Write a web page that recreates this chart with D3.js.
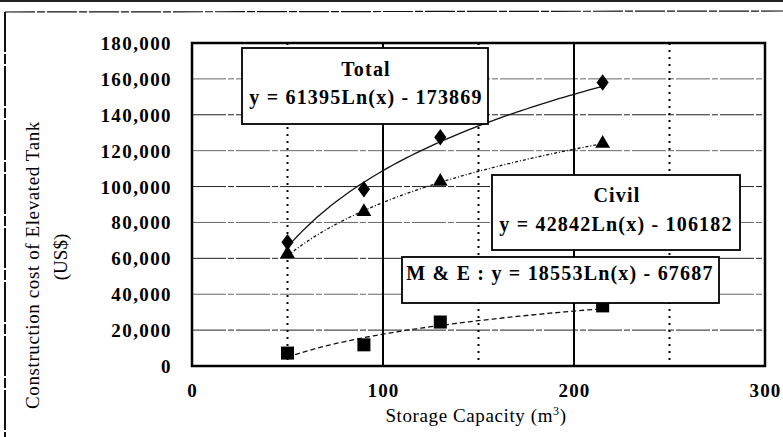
<!DOCTYPE html>
<html>
<head>
<meta charset="utf-8">
<script src="https://cdn.jsdelivr.net/npm/d3@7"></script>
<style>
  html, body { margin: 0; padding: 0; background: #fff; }
  svg { display: block; }
  text { font-family: "Liberation Serif", "Times New Roman", serif; fill: #000; }
</style>
</head>
<body>
<svg id="chart" width="783" height="437"></svg>
<script>
// Storage capacity (m3) of each tank size
const capacity = [50, 90, 130, 215];
// Construction cost (US$) per component
const totalCost = [69000, 98500, 127500, 158000];
const civilCost = [62500, 86000, 102800, 124000];
const meCost = [7200, 11800, 24500, 33500];

// Logarithmic trendlines y = a*Ln(x) + b
const trends = [
  { name: "Total", a: 61395, b: -173869, dash: null },
  { name: "Civil", a: 42842, b: -106182, dash: "3,2,1,2" },
  { name: "M & E", a: 18553, b: -67687, dash: "5,3" }
];

const xTicks = [0, 100, 200, 300];
const xMinor = [50, 150, 250];
const yTicks = [0, 20000, 40000, 60000, 80000, 100000, 120000, 140000, 160000, 180000];

const svg = d3.select("#chart");
const x = d3.scaleLinear().domain([0, 300]).range([192, 765]);
const y = d3.scaleLinear().domain([0, 180000]).range([366, 43]);

// outer frame
svg.append("line").attr("x1", 0).attr("x2", 783).attr("y1", 1).attr("y2", 1)
  .attr("stroke", "#222").attr("stroke-width", 2);
svg.append("line").attr("x1", 5).attr("x2", 783).attr("y1", 12).attr("y2", 11)
  .attr("stroke", "#111").attr("stroke-width", 1.2).attr("stroke-dasharray", "30,2,8,2");
svg.append("line").attr("x1", 5).attr("x2", 5).attr("y1", 12).attr("y2", 437)
  .attr("stroke", "#111").attr("stroke-width", 2).attr("stroke-dasharray", "40,2,10,2");

// horizontal gridlines
svg.append("g").selectAll("line").data(yTicks.slice(1, -1)).join("line")
  .attr("x1", x(0)).attr("x2", x(300))
  .attr("y1", d => y(d)).attr("y2", d => y(d))
  .attr("stroke", (d, i) => i % 2 ? "#666" : "#222")
  .attr("stroke-width", 1)
  .attr("stroke-dasharray", "34,2,6,2");

// vertical gridlines: solid at the labelled ticks, dotted between
svg.append("g").selectAll("line").data([100, 200]).join("line")
  .attr("x1", d => x(d)).attr("x2", d => x(d))
  .attr("y1", y(180000)).attr("y2", y(0))
  .attr("stroke", "#000").attr("stroke-width", 2);
svg.append("g").selectAll("line").data(xMinor).join("line")
  .attr("x1", d => x(d)).attr("x2", d => x(d))
  .attr("y1", y(180000)).attr("y2", y(0))
  .attr("stroke", "#000").attr("stroke-width", 2)
  .attr("stroke-dasharray", "2,5");

// plot border
svg.append("rect")
  .attr("x", x(0)).attr("y", y(180000))
  .attr("width", x(300) - x(0)).attr("height", y(0) - y(180000))
  .attr("fill", "none").attr("stroke", "#000").attr("stroke-width", 2.5);

// axis labels
const yAxis = d3.axisLeft(y).tickValues(yTicks).tickSize(0).tickPadding(20)
  .tickFormat(d3.format(","));
const gy = svg.append("g").attr("transform", `translate(${x(0)},0)`).call(yAxis);
gy.select(".domain").remove();
gy.selectAll("text")
  .attr("font-family", "Liberation Serif, serif")
  .style("font-size", "19px").style("font-weight", "bold")
  .style("letter-spacing", "1.4px").attr("dy", "0.34em");

const xAxis = d3.axisBottom(x).tickValues(xTicks).tickSize(0).tickPadding(18);
const gx = svg.append("g").attr("transform", `translate(0,${y(0)})`).call(xAxis);
gx.select(".domain").remove();
gx.selectAll("text")
  .attr("font-family", "Liberation Serif, serif")
  .style("font-size", "19px").style("font-weight", "bold")
  .style("letter-spacing", "1.2px");

// trendlines
const line = d3.line().x(d => x(d[0])).y(d => y(d[1]));
trends.forEach(t => {
  const xs = d3.range(capacity[0], capacity[capacity.length - 1] + 0.1, 2.5);
  svg.append("path")
    .attr("d", line(xs.map(v => [v, t.a * Math.log(v) + t.b])))
    .attr("fill", "none").attr("stroke", "#111").attr("stroke-width", 1.3)
    .attr("stroke-dasharray", t.dash);
});

// markers
const sym = (type, size) => d3.symbol().type(type).size(size)();
svg.append("g").selectAll("path").data(capacity).join("path")
  .attr("transform", (d, i) => `translate(${x(d)},${y(totalCost[i])}) scale(0.85,1.15)`)
  .attr("d", sym(d3.symbolDiamond2, 130)).attr("fill", "#000");
svg.append("g").selectAll("path").data(capacity).join("path")
  .attr("transform", (d, i) => `translate(${x(d)},${y(civilCost[i])})`)
  .attr("d", sym(d3.symbolTriangle, 95)).attr("fill", "#000");
svg.append("g").selectAll("path").data(capacity).join("path")
  .attr("transform", (d, i) => `translate(${x(d)},${y(meCost[i])})`)
  .attr("d", sym(d3.symbolSquare, 170)).attr("fill", "#000");

// equation boxes
function box(x0, y0, w, h) {
  svg.append("rect").attr("x", x0).attr("y", y0).attr("width", w).attr("height", h)
    .attr("fill", "#fff").attr("stroke", "#000").attr("stroke-width", 1.8);
}
function label(txt, cx, by, anchor) {
  svg.append("text").attr("x", cx).attr("y", by)
    .attr("text-anchor", anchor || "middle")
    .style("font-size", "20px").style("font-weight", "bold")
    .style("letter-spacing", "1.2px")
    .text(txt);
}
box(242, 48, 246, 76);
label("Total", 366, 76);
label(`y = ${trends[0].a}Ln(x) - ${-trends[0].b}`, 366, 104);

box(492, 175, 248, 75);
label("Civil", 617, 202);
label(`y = ${trends[1].a}Ln(x) - ${-trends[1].b}`, 616, 231);

box(402, 257, 317, 46);
label(`M & E :  y = ${trends[2].a}Ln(x) - ${-trends[2].b}`, 560, 280);

// axis titles
svg.append("text")
  .attr("transform", "translate(39,265) rotate(-90)")
  .attr("text-anchor", "middle")
  .style("font-size", "19px").style("letter-spacing", "0.6px")
  .text("Construction cost of Elevated Tank");
svg.append("text")
  .attr("transform", "translate(67,257) rotate(-90)")
  .attr("text-anchor", "middle")
  .style("font-size", "19px")
  .text("(US$)");
const xt = svg.append("text")
  .attr("x", 476).attr("y", 422)
  .attr("text-anchor", "middle")
  .style("font-size", "19px").style("letter-spacing", "0.6px")
  .text("Storage Capacity (m");
xt.append("tspan").attr("dy", -7).style("font-size", "12px").text("3");
xt.append("tspan").attr("dy", 7).text(")");
</script>
</body>
</html>
